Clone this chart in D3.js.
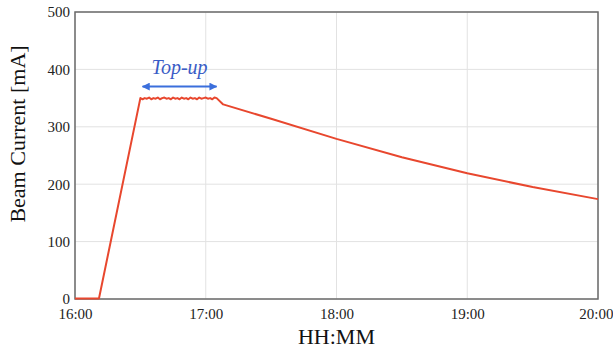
<!DOCTYPE html>
<html>
<head>
<meta charset="utf-8">
<script src="https://cdn.jsdelivr.net/npm/d3@7"></script>
<style>
body { margin: 0; background: #fff; }
</style>
</head>
<body>
<div id="chart"></div>
<script>
// data (time HH:MM, beam current mA)
var times = ["16:00","16:05","16:11","16:30",
  "16:31","16:32","16:33","16:34","16:35","16:36","16:37","16:38","16:39","16:40",
  "16:41","16:42","16:43","16:44","16:45","16:46","16:47","16:48","16:49","16:50",
  "16:51","16:52","16:53","16:54","16:55","16:56","16:57","16:58","16:59","17:00",
  "17:01","17:02","17:03","17:04","17:05","17:08",
  "17:30","18:00","18:30","19:00","19:30","20:00"];
var current = [1, 1, 1, 350,
  348, 350, 349, 351, 348, 350, 349, 351, 348, 350,
  351, 349, 350, 348, 351, 349, 350, 348, 351, 349, 350,
  348, 351, 349, 350, 348, 351, 349, 350, 351,
  349, 350, 348, 351, 350, 339,
  314, 279, 247, 219, 195, 174];
var xTicks = ["16:00","17:00","18:00","19:00","20:00"];
var yTicks = [0, 100, 200, 300, 400, 500];
var arrowSpan = ["16:31","17:05"];
var arrowLevel = 370;
var labelText = "Top-up";

var serif = "'Liberation Serif', 'Times New Roman', serif";

var margin = {top: 12, right: 15, bottom: 50, left: 75},
    width = 613 - margin.left - margin.right,
    height = 349 - margin.top - margin.bottom;

var parseTime = d3.timeParse("%H:%M");
var data = times.map(function(t, i) { return {date: parseTime(t), value: current[i]}; });

var svg = d3.select("#chart")
  .append("svg")
  .attr("width", 613)
  .attr("height", 349)
  .append("g")
  .attr("transform", "translate(" + margin.left + "," + margin.top + ")");

var x = d3.scaleTime()
  .domain([parseTime(xTicks[0]), parseTime(xTicks[xTicks.length - 1])])
  .range([0, width]);
var y = d3.scaleLinear()
  .domain([0, 500])
  .range([height, 0]);

// gridlines
svg.append("g")
  .selectAll("line")
  .data(yTicks)
  .enter().append("line")
  .attr("x1", 0).attr("x2", width)
  .attr("y1", function(d) { return y(d); })
  .attr("y2", function(d) { return y(d); })
  .attr("stroke", "#e2e2e2").attr("stroke-width", 1);
svg.append("g")
  .selectAll("line")
  .data(xTicks)
  .enter().append("line")
  .attr("x1", function(d) { return x(parseTime(d)); })
  .attr("x2", function(d) { return x(parseTime(d)); })
  .attr("y1", 0).attr("y2", height)
  .attr("stroke", "#e2e2e2").attr("stroke-width", 1);

// X axis
var xAxis = svg.append("g")
  .attr("transform", "translate(0," + height + ")")
  .call(d3.axisBottom(x)
    .tickValues(xTicks.map(parseTime))
    .tickFormat(d3.timeFormat("%H:%M"))
    .tickSize(0).tickPadding(9))
  .attr("font-family", serif)
  .attr("font-size", 15);
xAxis.select(".domain").remove();
xAxis.selectAll("text").attr("fill", "#222");
// last label sits against the right edge, like the original
xAxis.selectAll("text").filter(function(d, i) { return i === xTicks.length - 1; })
  .attr("text-anchor", "end")
  .attr("dx", 15);

// Y axis
var yAxis = svg.append("g")
  .call(d3.axisLeft(y).tickValues(yTicks).tickSize(0).tickPadding(5))
  .attr("font-family", serif)
  .attr("font-size", 15);
yAxis.select(".domain").remove();
yAxis.selectAll("text").attr("fill", "#222");

// frame
svg.append("rect")
  .attr("x", 0).attr("y", 0)
  .attr("width", width).attr("height", height)
  .attr("fill", "none")
  .attr("stroke", "#6a6a6a")
  .attr("stroke-width", 1.5);

// the line
svg.append("path")
  .datum(data)
  .attr("fill", "none")
  .attr("stroke", "#e8472e")
  .attr("stroke-width", 2)
  .attr("stroke-linejoin", "round")
  .attr("d", d3.line()
    .x(function(d) { return x(d.date); })
    .y(function(d) { return y(d.value); }));

// top-up annotation
var defs = svg.append("defs");
defs.append("marker")
  .attr("id", "arrowhead")
  .attr("viewBox", "0 0 10 10")
  .attr("refX", 9).attr("refY", 5)
  .attr("markerWidth", 4).attr("markerHeight", 4)
  .attr("orient", "auto-start-reverse")
  .append("path")
  .attr("d", "M0,0 L10,5 L0,10 Z")
  .attr("fill", "#3b6fdc");

var ax1 = x(parseTime(arrowSpan[0])), ax2 = x(parseTime(arrowSpan[1]));
svg.append("line")
  .attr("x1", ax1).attr("x2", ax2)
  .attr("y1", y(arrowLevel)).attr("y2", y(arrowLevel))
  .attr("stroke", "#3b6fdc")
  .attr("stroke-width", 2)
  .attr("marker-start", "url(#arrowhead)")
  .attr("marker-end", "url(#arrowhead)");

svg.append("text")
  .attr("x", (ax1 + ax2) / 2)
  .attr("y", y(arrowLevel) - 13)
  .attr("text-anchor", "middle")
  .attr("font-family", serif)
  .attr("font-style", "italic")
  .attr("font-size", 20)
  .attr("fill", "#3a5cc6")
  .text(labelText);

// axis titles
svg.append("text")
  .attr("x", width / 2)
  .attr("y", height + 45)
  .attr("text-anchor", "middle")
  .attr("font-family", serif)
  .attr("font-size", 22)
  .attr("fill", "#111")
  .text("HH:MM");

svg.append("text")
  .attr("transform", "translate(" + (-50) + "," + (134 - margin.top) + ") rotate(-90)")
  .attr("text-anchor", "middle")
  .attr("font-family", serif)
  .attr("font-size", 22)
  .attr("fill", "#111")
  .text("Beam Current [mA]");
</script>
</body>
</html>
